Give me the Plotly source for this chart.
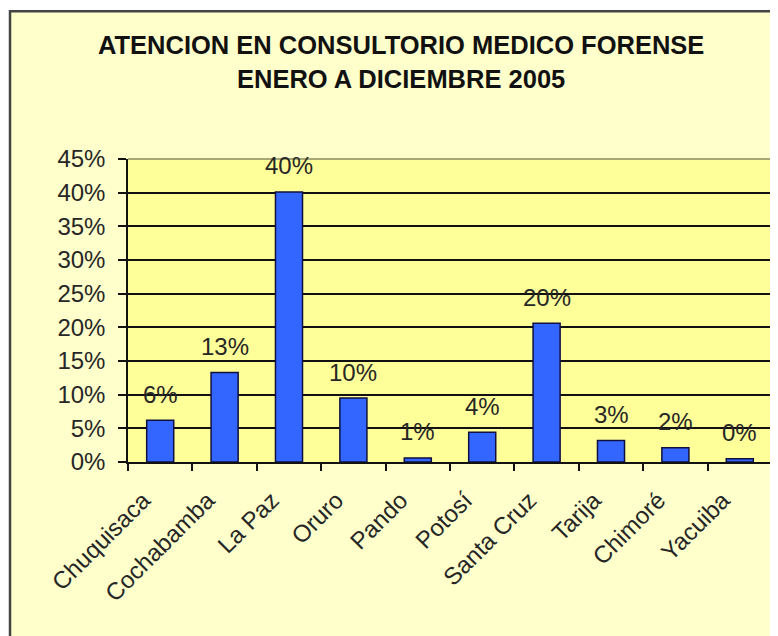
import plotly.graph_objects as go

categories = ["Chuquisaca", "Cochabamba", "La Paz", "Oruro", "Pando", "Potosí",
              "Santa Cruz", "Tarija", "Chimoré", "Yacuiba"]
values = [6.2, 13.3, 40.1, 9.5, 0.6, 4.4, 20.6, 3.2, 2.1, 0.5]
value_labels = ["6%", "13%", "40%", "10%", "1%", "4%", "20%", "3%", "2%", "0%"]
y_ticks = [0, 5, 10, 15, 20, 25, 30, 35, 40, 45]
y_tick_labels = [f"{v}%" for v in y_ticks]
title_lines = ["ATENCION EN CONSULTORIO MEDICO FORENSE", "ENERO A DICIEMBRE 2005"]

FONT = "Liberation Sans, Arial, sans-serif"
TITLE_FONT = "Liberation Sans, Arial, sans-serif"
TXT = "#262626"

fig = go.Figure()
fig.add_trace(go.Bar(
    x=categories, y=values,
    marker=dict(color="#3366FF", line=dict(color="#101040", width=1.5)),
    width=0.42,
    hoverinfo="skip",
))

for c, v, t in zip(categories, values, value_labels):
    fig.add_annotation(x=c, y=v, text=t, showarrow=False, yshift=26,
                       font=dict(family=FONT, size=24, color=TXT))

fig.add_annotation(xref="paper", yref="paper", x=0.424, y=1.0, yshift=130,
                   text=f"<b>{title_lines[0]}</b>", showarrow=False,
                   font=dict(family=TITLE_FONT, size=25.5, color="#111111"))
fig.add_annotation(xref="paper", yref="paper", x=0.424, y=1.0, yshift=96,
                   text=f"<b>{title_lines[1]}</b>", showarrow=False,
                   font=dict(family=TITLE_FONT, size=25.5, color="#111111"))

# white surround + chart frame
fig.add_shape(type="rect", xref="paper", yref="paper", x0=-0.5, x1=1.5,
              y0=1.488, y1=2.0, fillcolor="white", line=dict(width=0), layer="below")
fig.add_shape(type="rect", xref="paper", yref="paper", x0=-0.5, x1=-0.1832,
              y0=-1.0, y1=2.0, fillcolor="white", line=dict(width=0), layer="below")
fig.add_shape(type="rect", xref="paper", yref="paper", x0=-0.1832, x1=1.2,
              y0=-1.0, y1=1.488, fillcolor="rgba(0,0,0,0)",
              line=dict(color="#444444", width=2.5), layer="above")
# plot-area border (top/right)
fig.add_shape(type="path", xref="paper", yref="paper",
              path="M 0,1 L 1,1 L 1,0",
              line=dict(color="#8a8a60", width=1.5), layer="above")

fig.update_layout(
    width=770, height=628,
    margin=dict(l=120, r=6, t=151, b=174, autoexpand=False),
    paper_bgcolor="#FFFFCC",
    plot_bgcolor="#FFFF99",
    showlegend=False,
    bargap=0.58,
    font=dict(family=FONT, size=22, color=TXT),
    xaxis=dict(
        tickangle=-45, tickfont=dict(family=FONT, size=24, color=TXT),
        showline=True, linecolor="#111111", linewidth=1.5,
        ticks="outside", ticklen=7, tickcolor="#111111", tickwidth=1.5,
        tickson="boundaries", showgrid=False, automargin=False,
        ticklabelshift=-17, ticklabelstandoff=13,
    ),
    yaxis=dict(
        range=[0, 45], tickvals=y_ticks, ticktext=y_tick_labels,
        tickfont=dict(family=FONT, size=24, color=TXT),
        showline=True, linecolor="#111111", linewidth=1.5,
        ticks="outside", ticklen=8, tickcolor="#111111", tickwidth=1.5,
        ticklabelstandoff=8,
        showgrid=True, gridcolor="#111111", gridwidth=1.5,
        zeroline=False, fixedrange=True, automargin=False,
    ),
)

fig.write_html("out.html")
